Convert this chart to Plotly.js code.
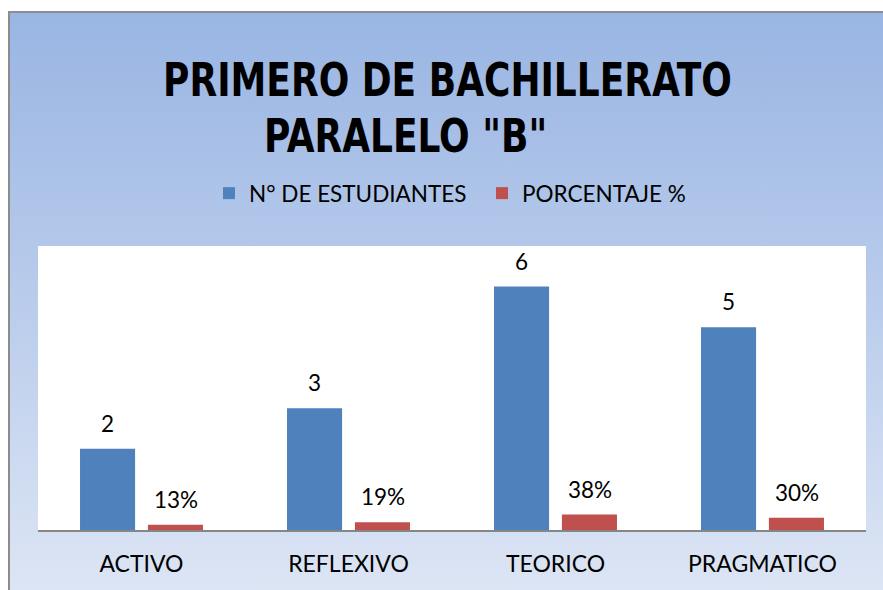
<!DOCTYPE html>
<html>
<head>
<meta charset="utf-8">
<script src="https://cdn.plot.ly/plotly-3.0.1.min.js"></script>
<style>
  html, body { margin: 0; padding: 0; background: #ffffff; }
  #wrap { position: relative; width: 883px; height: 590px; overflow: hidden; }
  #frame { position: absolute; left: 8px; top: 11px; width: 900px; height: 600px;
           border-left: 2px solid #8c8c8c; border-top: 2px solid #8c8c8c;
           background: linear-gradient(to bottom, #99b5e3 0%, #b4c8ea 40%, #dfe7f5 100%); }
  #chart { position: absolute; left: 0; top: 0; width: 883px; height: 590px; }
</style>
</head>
<body>
<div id="wrap">
  <div id="frame"></div>
  <div id="chart"></div>
</div>
<script>
const categories = ["ACTIVO", "REFLEXIVO", "TEORICO", "PRAGMATICO"];
const estudiantes = [2, 3, 6, 5];
const porcentaje = [0.13, 0.19, 0.38, 0.30];
const seriesNames = ["N° DE ESTUDIANTES", "PORCENTAJE %"];
const titleLines = ["PRIMERO DE BACHILLERATO", "PARALELO \"B\""];

const blue = "#4f81bd";
const red = "#c0504d";
const fam = "Lato, Carlito, Calibri, sans-serif";
const labelFont = { family: fam, size: 22.5, color: "#000000" };
const titleFont = { family: "DejaVu Sans Condensed, Arial Narrow, sans-serif", size: 40, color: "#000000", weight: "bold" };

const traces = [
  { type: "bar", name: seriesNames[0], x: categories, y: estudiantes,
    marker: { color: blue, line: { width: 0 } }, width: 0.266, offset: -0.297, hoverinfo: "x+y" },
  { type: "bar", name: seriesNames[1], x: categories, y: porcentaje,
    marker: { color: red, line: { width: 0 } }, width: 0.266, offset: 0.031, hoverinfo: "x+y" }
];

const annotations = [
  { text: titleLines[1], xref: "paper", yref: "paper",
    x: (405 - 38) / 828, y: (530 - 135.5) / 284, xanchor: "center", yanchor: "middle",
    showarrow: false, font: titleFont }
];
categories.forEach((c, i) => {
  annotations.push({ x: c, y: estudiantes[i], xref: "x", yref: "y", text: String(estudiantes[i]),
    showarrow: false, yanchor: "bottom", xshift: -34.5, yshift: 10, font: labelFont });
  annotations.push({ x: c, y: porcentaje[i], xref: "x", yref: "y", text: Math.round(porcentaje[i] * 100) + "%",
    showarrow: false, yanchor: "bottom", xshift: 34.5, yshift: 10, font: labelFont });
});

const layout = {
  width: 883, height: 590,
  margin: { l: 38, r: 17, t: 246, b: 60, pad: 0 },
  paper_bgcolor: "rgba(0,0,0,0)",
  plot_bgcolor: "#ffffff",
  title: {
    text: titleLines[0],
    font: titleFont,
    x: 447.5 / 883, xanchor: "center", xref: "container",
    y: 1 - 79.5 / 590, yanchor: "middle", yref: "container"
  },
  showlegend: true,
  legend: {
    orientation: "h", x: 209 / 883, xanchor: "left", xref: "container",
    y: 1 - 172 / 590, yanchor: "top", yref: "container",
    font: labelFont, bgcolor: "rgba(0,0,0,0)", traceorder: "normal",
    entrywidth: 228, entrywidthmode: "pixels"
  },
  xaxis: {
    type: "category", showgrid: false, zeroline: false,
    showline: true, linecolor: "#868686", linewidth: 2,
    ticks: "outside", ticklen: 12, tickcolor: "rgba(0,0,0,0)",
    tickfont: { family: fam, size: 23, color: "#000000" }, fixedrange: true
  },
  yaxis: {
    range: [0, 7], visible: false, showgrid: false, zeroline: false, fixedrange: true
  },
  bargap: 0.4,
  annotations: annotations
};

function stretch(el, s) {
  if (!el) return;
  const bb = el.getBBox();
  const cy = bb.y + bb.height / 2;
  const prev = el.getAttribute("transform") || "";
  el.setAttribute("transform", prev + ` translate(0,${cy}) scale(1,${s}) translate(0,${-cy})`);
}

Plotly.newPlot("chart", traces, layout, { displayModeBar: false, staticPlot: true }).then(() => {
  stretch(document.querySelector(".gtitle"), 1.15);
  const a0 = document.querySelector('.annotation[data-index="0"] text');
  stretch(a0, 1.15);
});
</script>
</body>
</html>
